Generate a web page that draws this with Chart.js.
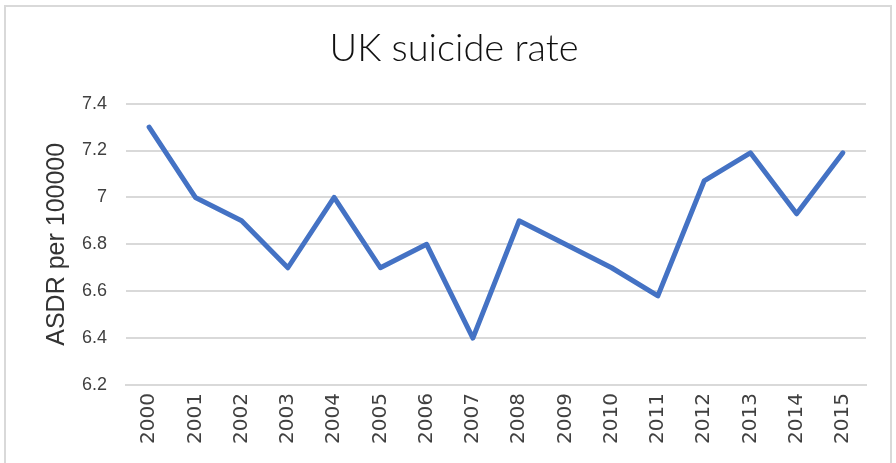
<!DOCTYPE html>
<html>
<head>
<meta charset="utf-8">
<script src="https://cdn.jsdelivr.net/npm/chart.js@4"></script>
<style>
  html, body { margin: 0; padding: 0; background: #fff; overflow: hidden; }
  #frame {
    position: absolute; left: 4px; top: 5px; width: 888px; height: 480px;
    border: 2px solid #d9d9d9; box-sizing: border-box;
  }
  #wrap { position: absolute; left: 0; top: 0; width: 896px; height: 463px; }
</style>
</head>
<body>
<div id="frame"></div>
<div id="wrap"><canvas id="chart" width="896" height="463"></canvas></div>
<script>
const YEARS = ['2000', '2001', '2002', '2003', '2004', '2005', '2006', '2007',
               '2008', '2009', '2010', '2011', '2012', '2013', '2014', '2015'];
const RATE  = [7.3, 7.0, 6.9, 6.7, 7.0, 6.7, 6.8, 6.4,
               6.9, 6.8, 6.7, 6.58, 7.07, 7.19, 6.93, 7.19];
const Y_MIN = 6.2, Y_MAX = 7.4, Y_STEP = 0.2;

const GRID = '#d9d9d9';
const TEXT = '#404040';

new Chart(document.getElementById('chart'), {
  type: 'line',
  data: {
    labels: YEARS,
    datasets: [{
      data: RATE,
      borderColor: '#4472C4',
      borderWidth: 5,
      borderJoinStyle: 'round',
      borderCapStyle: 'round',
      pointRadius: 0,
      tension: 0,
    }]
  },
  options: {
    responsive: false,
    animation: false,
    layout: { padding: { left: 42, right: 30, top: 0, bottom: 0 } },
    plugins: {
      legend: { display: false },
      tooltip: { enabled: false },
      title: {
        display: true,
        text: 'UK suicide rate',
        color: '#111',
        font: { family: 'Lato', size: 38, weight: '300', lineHeight: 1.2 },
        padding: { top: 26, bottom: 32 },
      },
    },
    scales: {
      x: {
        offset: true,
        grid: { display: false, drawTicks: false },
        border: { display: true, color: GRID, width: 2 },
        ticks: {
          color: TEXT,
          minRotation: 90, maxRotation: 90,
          padding: 8,
          font: { family: 'DejaVu Sans', size: 20 },
        },
        afterFit: s => { s.height = 78; },
      },
      y: {
        min: Y_MIN, max: Y_MAX,
        grid: { color: GRID, lineWidth: 2, drawTicks: false },
        border: { display: false },
        ticks: {
          stepSize: Y_STEP,
          color: TEXT,
          padding: 19,
          font: { family: 'Liberation Sans', size: 18 },
          callback: v => String(Math.round(v * 10) / 10),
        },
        title: {
          display: true,
          text: 'ASDR per 100000',
          color: '#333',
          font: { family: 'Liberation Sans', size: 25 },
          padding: { top: 0, bottom: 0 },
        },
        afterFit: s => { s.width = 84; },
      },
    },
  },
});
</script>
</body>
</html>
